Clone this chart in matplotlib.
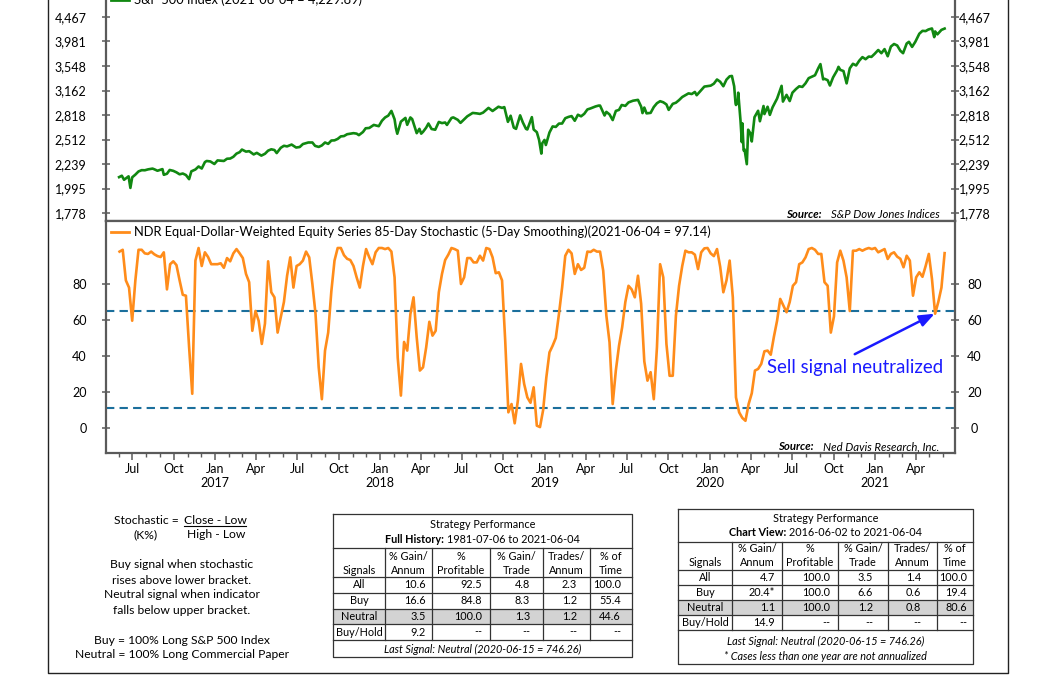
import matplotlib
matplotlib.use('Agg')
import matplotlib.pyplot as plt
import matplotlib.dates as mdates
import matplotlib.ticker as mticker
from matplotlib.lines import Line2D
import pandas as pd

plt.rcParams['font.family'] = ['Lato', 'DejaVu Sans']

# ---------------- data ----------------
spx_dates = [
    '2016-06-02', '2016-06-08', '2016-06-13', '2016-06-23', '2016-06-27', '2016-07-01', '2016-07-08', '2016-07-15',
    '2016-07-22', '2016-07-29', '2016-08-05', '2016-08-15', '2016-08-19', '2016-08-26', '2016-09-06', '2016-09-09',
    '2016-09-16', '2016-09-22', '2016-09-30', '2016-10-07', '2016-10-14', '2016-10-21', '2016-10-28', '2016-11-04',
    '2016-11-09', '2016-11-18', '2016-11-25', '2016-12-02', '2016-12-09', '2016-12-13', '2016-12-21', '2016-12-30',
    '2017-01-06', '2017-01-13', '2017-01-20', '2017-01-27', '2017-02-03', '2017-02-10', '2017-02-17', '2017-02-24',
    '2017-03-01', '2017-03-10', '2017-03-17', '2017-03-27', '2017-04-03', '2017-04-13', '2017-04-21', '2017-04-28',
    '2017-05-05', '2017-05-12', '2017-05-17', '2017-05-26', '2017-06-02', '2017-06-09', '2017-06-19', '2017-06-29',
    '2017-07-07', '2017-07-14', '2017-07-26', '2017-08-04', '2017-08-10', '2017-08-18', '2017-08-25', '2017-09-01',
    '2017-09-08', '2017-09-15', '2017-09-22', '2017-09-29', '2017-10-06', '2017-10-13', '2017-10-20', '2017-10-27',
    '2017-11-03', '2017-11-10', '2017-11-15', '2017-11-24', '2017-11-30', '2017-12-08', '2017-12-18', '2017-12-29',
    '2018-01-05', '2018-01-12', '2018-01-19', '2018-01-26', '2018-02-02', '2018-02-05', '2018-02-08', '2018-02-16',
    '2018-02-26', '2018-03-02', '2018-03-09', '2018-03-13', '2018-03-23', '2018-03-29', '2018-04-02', '2018-04-06',
    '2018-04-13', '2018-04-18', '2018-04-25', '2018-05-03', '2018-05-11', '2018-05-18', '2018-05-25', '2018-05-29',
    '2018-06-08', '2018-06-12', '2018-06-22', '2018-06-28', '2018-07-06', '2018-07-13', '2018-07-25', '2018-08-03',
    '2018-08-10', '2018-08-17', '2018-08-29', '2018-09-07', '2018-09-20', '2018-09-28', '2018-10-03', '2018-10-11',
    '2018-10-17', '2018-10-24', '2018-10-29', '2018-11-07', '2018-11-13', '2018-11-20', '2018-11-23', '2018-12-03',
    '2018-12-07', '2018-12-14', '2018-12-19', '2018-12-24', '2018-12-26', '2018-12-31',
    '2019-01-03', '2019-01-11', '2019-01-18', '2019-01-25', '2019-02-01', '2019-02-08', '2019-02-15', '2019-02-22',
    '2019-03-01', '2019-03-08', '2019-03-15', '2019-03-22', '2019-03-29', '2019-04-05', '2019-04-12', '2019-04-23',
    '2019-04-30', '2019-05-03', '2019-05-13', '2019-05-17', '2019-05-24', '2019-05-31', '2019-06-07', '2019-06-14',
    '2019-06-20', '2019-06-28', '2019-07-05', '2019-07-15', '2019-07-26', '2019-08-02', '2019-08-05', '2019-08-09',
    '2019-08-14', '2019-08-23', '2019-08-30', '2019-09-06', '2019-09-13', '2019-09-20', '2019-09-27', '2019-10-02',
    '2019-10-11', '2019-10-18', '2019-10-25', '2019-11-01', '2019-11-08', '2019-11-15', '2019-11-22', '2019-11-29',
    '2019-12-03', '2019-12-13', '2019-12-20', '2019-12-31',
    '2020-01-03', '2020-01-10', '2020-01-17', '2020-01-24', '2020-01-31', '2020-02-07', '2020-02-14', '2020-02-19',
    '2020-02-24', '2020-02-27', '2020-02-28', '2020-03-03', '2020-03-04', '2020-03-09', '2020-03-12', '2020-03-13',
    '2020-03-16', '2020-03-18', '2020-03-23', '2020-03-26', '2020-03-31', '2020-04-03', '2020-04-09', '2020-04-17',
    '2020-04-21', '2020-04-29', '2020-05-01', '2020-05-08', '2020-05-13', '2020-05-19', '2020-05-29', '2020-06-08',
    '2020-06-11', '2020-06-19', '2020-06-26', '2020-07-02', '2020-07-10', '2020-07-17', '2020-07-24', '2020-07-31',
    '2020-08-07', '2020-08-14', '2020-08-21', '2020-08-28', '2020-09-02', '2020-09-08', '2020-09-11', '2020-09-18',
    '2020-09-23', '2020-09-30', '2020-10-09', '2020-10-12', '2020-10-16', '2020-10-23', '2020-10-30', '2020-11-06',
    '2020-11-13', '2020-11-20', '2020-11-27', '2020-12-04', '2020-12-11', '2020-12-18', '2020-12-24', '2020-12-31',
    '2021-01-08', '2021-01-15', '2021-01-22', '2021-01-29', '2021-02-05', '2021-02-12', '2021-02-19', '2021-02-26',
    '2021-03-04', '2021-03-12', '2021-03-17', '2021-03-24', '2021-03-31', '2021-04-09', '2021-04-16', '2021-04-23',
    '2021-04-29', '2021-05-07', '2021-05-12', '2021-05-14', '2021-05-19', '2021-05-28', '2021-06-04',
]
spx_values = [
    2105, 2119, 2079, 2113, 2001, 2103, 2130, 2162,
    2175, 2174, 2183, 2191, 2184, 2169, 2186, 2128,
    2139, 2177, 2168, 2153, 2133, 2141, 2126, 2085,
    2163, 2182, 2213, 2192, 2259, 2271, 2266, 2239,
    2277, 2274, 2271, 2295, 2297, 2316, 2351, 2367,
    2396, 2373, 2378, 2342, 2359, 2329, 2349, 2384,
    2399, 2391, 2357, 2416, 2439, 2432, 2453, 2419,
    2425, 2459, 2477, 2477, 2438, 2426, 2443, 2477,
    2461, 2500, 2502, 2519, 2549, 2553, 2575, 2581,
    2588, 2582, 2564, 2602, 2648, 2652, 2690, 2674,
    2743, 2786, 2810, 2873, 2762, 2649, 2581, 2732,
    2780, 2691, 2786, 2765, 2588, 2641, 2582, 2604,
    2656, 2708, 2639, 2630, 2728, 2713, 2721, 2690,
    2779, 2787, 2755, 2716, 2760, 2801, 2846, 2840,
    2833, 2850, 2914, 2872, 2930, 2914, 2925, 2729,
    2809, 2656, 2641, 2814, 2722, 2641, 2633, 2790,
    2633, 2600, 2507, 2351, 2468, 2507,
    2448, 2596, 2671, 2665, 2707, 2708, 2776, 2793,
    2804, 2743, 2822, 2801, 2834, 2893, 2907, 2934,
    2946, 2946, 2812, 2860, 2826, 2752, 2873, 2887,
    2954, 2942, 2990, 3014, 3026, 2932, 2844, 2919,
    2840, 2847, 2926, 2979, 3007, 2992, 2962, 2887,
    2970, 2986, 3023, 3067, 3093, 3120, 3110, 3141,
    3093, 3169, 3221, 3231,
    3235, 3265, 3330, 3295, 3226, 3328, 3380, 3386,
    3226, 2979, 2954, 3003, 3130, 2747, 2481, 2711,
    2386, 2398, 2237, 2630, 2585, 2489, 2790, 2875,
    2737, 2940, 2831, 2930, 2820, 2922, 3044, 3232,
    3002, 3098, 3009, 3130, 3185, 3225, 3216, 3271,
    3351, 3373, 3397, 3508, 3580, 3332, 3341, 3319,
    3237, 3363, 3477, 3534, 3484, 3465, 3270, 3509,
    3585, 3557, 3638, 3699, 3663, 3709, 3703, 3756,
    3825, 3768, 3841, 3714, 3887, 3934, 3907, 3811,
    3768, 3943, 3975, 3881, 3973, 4129, 4185, 4180,
    4211, 4232, 4063, 4174, 4116, 4204, 4230,
]

stoch_start = '2016-06-03'   # weekly readings (Fridays)
stoch_values = [
    98, 99, 82, 78, 59.6, 82, 99, 99, 97, 96.7,
    98, 96.5, 95.5, 95, 97.6, 77, 91, 92.6, 90.5, 82,
    74, 73.5, 45, 19, 93, 100, 90, 97.6, 95, 91,
    91, 91, 91.5, 89, 94.4, 92.6, 97, 99.4, 97, 94.4,
    85.6, 81, 54, 65, 59.6, 46.7, 58, 92.6, 75.4, 72.6,
    53, 61.5, 70, 84.6, 94.8, 78, 90, 91, 93, 98,
    94.8, 80, 63.3, 33.7, 16, 43, 53, 76, 93, 100,
    100, 96, 94, 93.3, 90, 83.7, 78, 90, 99.4, 94.8,
    91, 97.6, 100, 100, 99.4, 100, 98, 83.7, 39, 18,
    47.8, 43, 63.3, 72.6, 50.4, 31.9, 33.7, 44.8, 59, 51.3,
    54, 75.4, 85.6, 93.3, 96.3, 100, 99.4, 98.5, 80, 83.7,
    94.4, 94.4, 92, 92, 95.7, 93, 100, 99.4, 94.8, 86,
    86.5, 82, 48.5, 8.7, 13.3, 2.6, 15.2, 35.6, 24.4, 17,
    14, 22.6, 1.3, 0.5, 10, 28, 42, 45.7, 50, 63.3,
    78, 95.7, 99, 97, 85.6, 91, 87.8, 89, 98, 97.8,
    99, 98, 98, 87.4, 62.4, 47.6, 13.3, 32, 45.7, 56,
    70, 79, 77, 72.6, 84.6, 69, 37, 26.3, 31, 16,
    44.8, 91, 83.7, 46.7, 29, 29, 62.4, 79, 90, 98.5,
    97.6, 97.6, 96.3, 88.3, 97.6, 99.8, 100, 97, 95.5, 99.4,
    89.6, 75.4, 82, 93, 72.6, 17, 8.7, 5.6, 4, 13.3,
    19.3, 31.9, 32.8, 35.6, 42.6, 43, 40.7, 50.7, 59.6, 71.7,
    68, 64.3, 70, 79, 81, 91, 92, 94.8, 99.4, 100,
    99, 96.7, 96.7, 81, 79, 53, 62, 92, 98.5, 93,
    83.7, 65, 98.5, 98.5, 99.4, 98.5, 99.4, 100, 99.4, 100,
    97.6, 98.5, 99.4, 93.9, 96.7, 97.6, 95.2, 94, 89.3, 95.7,
    93, 73.5, 83.7, 86.5, 84, 90, 96.7, 82.8, 63.5, 70,
    78, 97.14,
]
upper_bracket = 65
lower_bracket = 11

spx_ticks = [1778, 1995, 2239, 2512, 2818, 3162, 3548, 3981, 4467]
stoch_ticks = [0, 20, 40, 60, 80]

spx_label = 'S&P 500 Index (2021-06-04 = 4,229.89)'
stoch_label = ('NDR Equal-Dollar-Weighted Equity Series 85-Day Stochastic '
               '(5-Day Smoothing)(2021-06-04 = 97.14)')
annot_text = 'Sell signal neutralized'
annot_date = '2021-05-13'
annot_value = 63.5

table_header_top = ['', '% Gain/', '%', '% Gain/', 'Trades/', '% of']
table_header_bot = ['Signals', 'Annum', 'Profitable', 'Trade', 'Annum', 'Time']
full_rows = [
    ['All', '10.6', '92.5', '4.8', '2.3', '100.0'],
    ['Buy', '16.6', '84.8', '8.3', '1.2', '55.4'],
    ['Neutral', '3.5', '100.0', '1.3', '1.2', '44.6'],
    ['Buy/Hold', '9.2', '--', '--', '--', '--'],
]
view_rows = [
    ['All', '4.7', '100.0', '3.5', '1.4', '100.0'],
    ['Buy', '20.4*', '100.0', '6.6', '0.6', '19.4'],
    ['Neutral', '1.1', '100.0', '1.2', '0.8', '80.6'],
    ['Buy/Hold', '14.9', '--', '--', '--', '--'],
]
last_signal = 'Last Signal: Neutral (2020-06-15 = 746.26)'
footnote = '* Cases less than one year are not annualized'

# ---------------- figure ----------------
W, H = 1056, 675
fig = plt.figure(figsize=(W / 100, H / 100), dpi=100)
fig.patch.set_facecolor('white')

def fr(l, t, r, b):
    return [l / W, 1 - b / H, (r - l) / W, (b - t) / H]

ax1 = fig.add_axes(fr(106, -11, 955, 221))
ax2 = fig.add_axes(fr(106, 221, 955, 453), sharex=ax1)

SPINE = '#5a5a5a'
GREEN = '#118811'
ORANGE = '#ff8c1a'
DASH = '#1b6f9c'
BLUE = '#1a1aff'

sd = pd.to_datetime(spx_dates)
ax1.plot(sd, spx_values, color=GREEN, lw=1.9, solid_joinstyle='round')
ax1.set_yscale('log')
ax1.set_ylim(1713, 5094)
ax1.yaxis.set_major_locator(mticker.FixedLocator(spx_ticks))
ax1.yaxis.set_major_formatter(mticker.FuncFormatter(lambda v, p: f'{v:,.0f}'))
ax1.yaxis.set_minor_locator(mticker.NullLocator())

std = pd.date_range(stoch_start, periods=len(stoch_values), freq='7D')
ax2.axhline(upper_bracket, color=DASH, lw=1.5, ls=(0, (4, 2.5)), zorder=1)
ax2.axhline(lower_bracket, color=DASH, lw=1.5, ls=(0, (4, 2.5)), zorder=1)
ax2.plot(std, stoch_values, color=ORANGE, lw=1.9, zorder=2, solid_joinstyle='round')
ax2.set_ylim(-13.9, 115)
ax2.set_yticks(stoch_ticks)

ax1.set_xlim(pd.Timestamp('2016-05-04'), pd.Timestamp('2021-06-27'))

for ax in (ax1, ax2):
    for s in ax.spines.values():
        s.set_color(SPINE)
        s.set_linewidth(1.6)
    ax.tick_params(axis='y', which='both', left=True, right=True, labelleft=True,
                   labelright=True, direction='inout', length=6, width=1.1,
                   color=SPINE, labelsize=9, pad=1.5)
    ax.tick_params(axis='y', which='both', labelright=True, pad=11)
    for t in ax.yaxis.get_major_ticks():
        t.label2.set_horizontalalignment('center')

ax1.tick_params(axis='x', which='both', bottom=False, labelbottom=False)

def xfmt(x, pos):
    d = mdates.num2date(x)
    if d.month == 1:
        return f'Jan\n{d.year}'
    return d.strftime('%b')

ax2.xaxis.set_major_locator(mdates.MonthLocator(bymonth=[1, 4, 7, 10]))
ax2.xaxis.set_minor_locator(mdates.MonthLocator())
ax2.xaxis.set_major_formatter(mticker.FuncFormatter(xfmt))
ax2.tick_params(axis='x', which='major', direction='out', length=5, width=1.1,
                color=SPINE, labelsize=9, pad=2)
ax2.tick_params(axis='x', which='minor', direction='out', length=3, width=1.0, color=SPINE)
for lab in ax2.get_xticklabels():
    lab.set_linespacing(1.25)

ax1.legend(handles=[Line2D([], [], color=GREEN, lw=2)], labels=[spx_label],
           loc='upper left', frameon=False, fontsize=9.3, handlelength=1.45,
           handletextpad=0.4, borderaxespad=0.1, borderpad=0.25)
ax2.legend(handles=[Line2D([], [], color=ORANGE, lw=2)], labels=[stoch_label],
           loc='upper left', frameon=False, fontsize=9.3, handlelength=1.45,
           handletextpad=0.4, borderaxespad=0.1, borderpad=0.25)

ax2.annotate('', xy=(pd.Timestamp(annot_date), annot_value),
             xytext=(pd.Timestamp('2020-11-17'), 41),
             arrowprops=dict(arrowstyle='-|>,head_length=0.9,head_width=0.35',
                             color=BLUE, lw=1.8, shrinkA=0, shrinkB=0))
ax2.text(pd.Timestamp('2020-05-06'), 33.6, annot_text, color=BLUE, fontsize=13.4,
         ha='left', va='center')

# ---------------- overlay (pixel coords) ----------------
ov = fig.add_axes([0, 0, 1, 1], zorder=10)
ov.set_xlim(0, W)
ov.set_ylim(H, 0)
ov.axis('off')
ov.patch.set_alpha(0)

fig.canvas.draw()
R = fig.canvas.get_renderer()

def seg_text(x, y, parts, size, ha='center', color='black'):
    objs, widths = [], []
    for s, kw, gap in parts:
        t = ov.text(0, y, s, fontsize=size, va='center', ha='left', color=color, **kw)
        objs.append((t, gap))
        widths.append(t.get_window_extent(R).width)
    total = sum(widths) + sum(g for _, g in objs)
    x0 = x - total / 2 if ha == 'center' else (x - total if ha == 'right' else x)
    for (t, gap), w in zip(objs, widths):
        t.set_x(x0)
        x0 += w + gap

# source notes
seg_text(940, 214, [('Source:', dict(fontweight='bold', fontstyle='italic'), 10),
                    ('S&P Dow Jones Indices', dict(fontstyle='italic'), 0)], 8.2, ha='right')
seg_text(939, 447, [('Source:', dict(fontweight='bold', fontstyle='italic'), 9),
                    ('Ned Davis Research, Inc.', dict(fontstyle='italic'), 0)], 8.2, ha='right')

# left explanatory text
TS = 8.7
ov.text(179, 520, 'Stochastic =', fontsize=TS, ha='right', va='center')
t = ov.text(215, 520, 'Close - Low', fontsize=TS, ha='center', va='center')
bb = t.get_window_extent(R)
ov.plot([bb.x0, bb.x1], [526, 526], color='black', lw=0.8)
ov.text(146, 535, '(K%)', fontsize=TS, ha='center', va='center')
ov.text(216, 535, 'High - Low', fontsize=TS, ha='center', va='center')
for yy, s in zip([565, 580, 595, 610, 640, 655],
                 ['Buy signal when stochastic', 'rises above lower bracket.',
                  'Neutral signal when indicator', 'falls below upper bracket.',
                  'Buy = 100% Long S&P 500 Index', 'Neutral = 100% Long Commercial Paper']):
    ov.text(182, yy, s, fontsize=TS, ha='center', va='center')

# tables
def draw_table(cols, pads, y_top, y_t1, y_t2, y_l1, y_h1, y_h2, y_l2, row_lines,
               rows, label_parts, extra_lines, y_bottom):
    FS = 7.8
    lc = '#333333'
    lw = 0.9
    nr = 2
    ov.fill_between([cols[0], cols[-1]], row_lines[nr], row_lines[nr + 1],
                    color='#d3d3d3', lw=0, zorder=0)
    ov.plot([cols[0], cols[-1], cols[-1], cols[0], cols[0]],
            [y_top, y_top, y_bottom, y_bottom, y_top], color=lc, lw=lw)
    for yy in [y_l1, y_l2] + row_lines[1:]:
        ov.plot([cols[0], cols[-1]], [yy, yy], color=lc, lw=lw)
    for xx in cols[1:-1]:
        ov.plot([xx, xx], [y_l1, row_lines[-1]], color=lc, lw=lw)
    xc = (cols[0] + cols[-1]) / 2
    ov.text(xc, y_t1, 'Strategy Performance', fontsize=FS, ha='center', va='center')
    seg_text(xc, y_t2, label_parts, FS)
    for j in range(6):
        cx = (cols[j] + cols[j + 1]) / 2
        if table_header_top[j]:
            ov.text(cx, y_h1, table_header_top[j], fontsize=FS, ha='center', va='center')
        ov.text(cx, y_h2, table_header_bot[j], fontsize=FS, ha='center', va='center')
    for i, row in enumerate(rows):
        yc = (row_lines[i] + row_lines[i + 1]) / 2
        ov.text((cols[0] + cols[1]) / 2, yc, row[0], fontsize=FS, ha='center', va='center')
        for j in range(1, 6):
            ov.text(cols[j + 1] - pads[j - 1], yc, row[j], fontsize=FS, ha='right', va='center')
    for yy, s in extra_lines:
        ov.text(xc, yy, s, fontsize=FS, ha='center', va='center', fontstyle='italic')

draw_table([333, 385, 432, 490, 543, 590, 632], [6, 8, 13, 13, 11],
           514, 525, 539.5, 548, 556, 570, 577, [577, 593, 609, 624, 640],
           full_rows,
           [('Full History:', dict(fontweight='bold'), 3.5),
            ('1981-07-06 to 2021-06-04', {}, 0)],
           [(649, last_signal)], 657)

draw_table([678, 732, 782, 838, 888, 937, 973], [7, 8, 15, 16, 6],
           509, 519, 533, 542, 549, 563, 570, [570, 585, 600, 615, 630],
           view_rows,
           [('Chart View:', dict(fontweight='bold'), 3.5),
            ('2016-06-02 to 2021-06-04', {}, 0)],
           [(641, last_signal), (656, footnote)], 664)

# outer frame
ov.plot([48, 48, 1008, 1008], [-5, 673, 673, -5], color='#222222', lw=1.0)

fig.savefig('out.png', dpi=100, facecolor='white')
